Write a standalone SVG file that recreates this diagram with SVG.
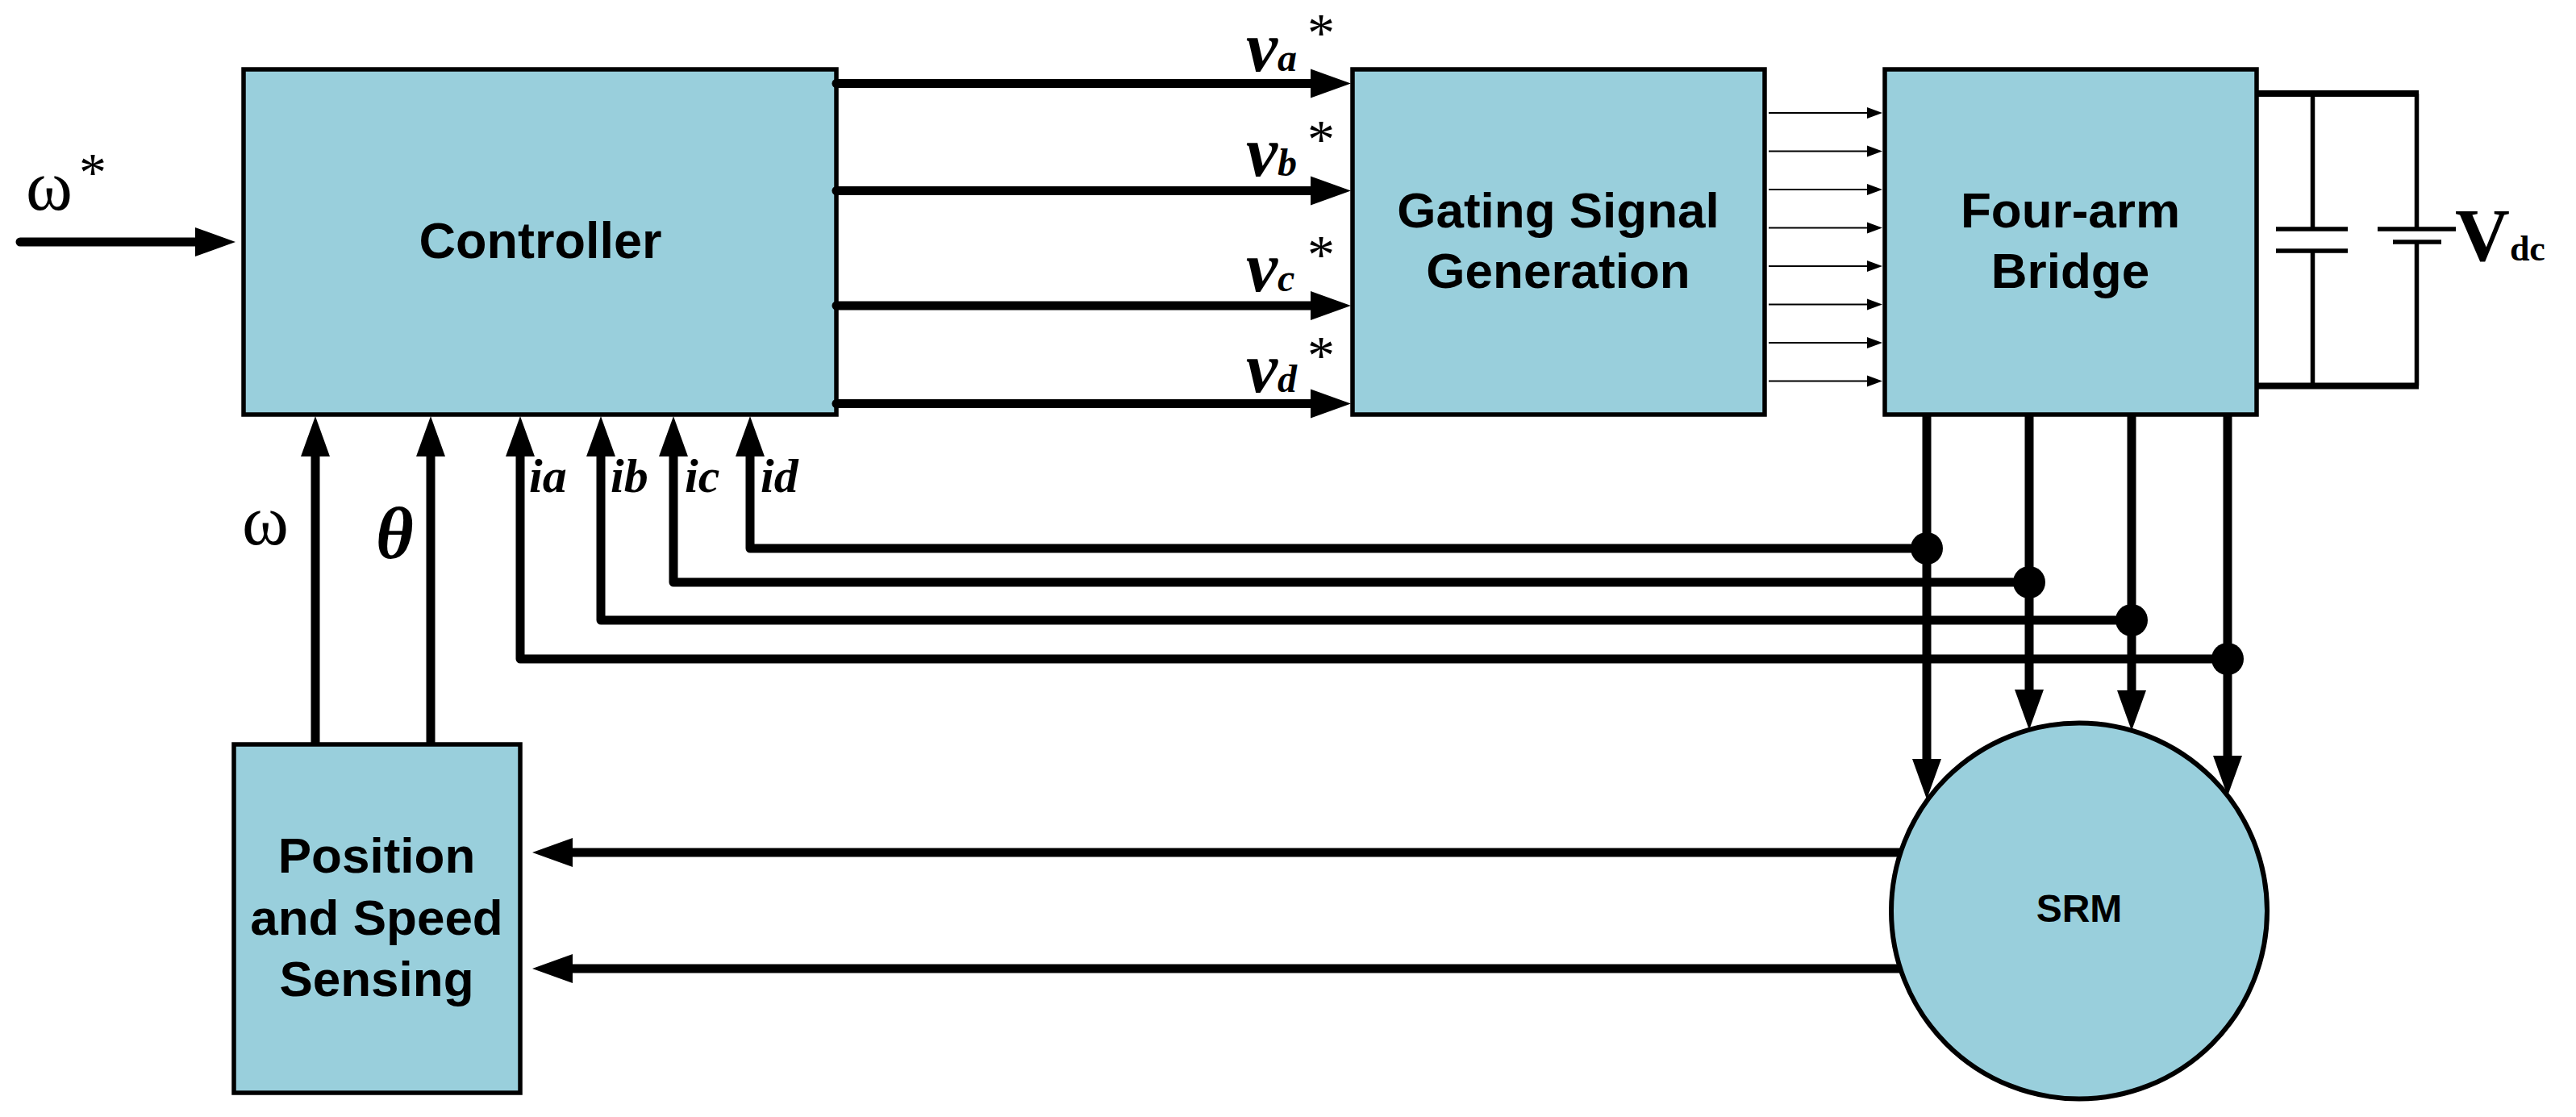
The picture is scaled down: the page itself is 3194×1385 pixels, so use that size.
<svg xmlns="http://www.w3.org/2000/svg" width="3194" height="1385" viewBox="0 0 3194 1385">
<style>
.box{fill:#99CFDC;stroke:#000;stroke-width:5.5}
.lbl{font-family:"Liberation Sans",Arial,sans-serif;font-weight:bold;fill:#000;text-anchor:middle}
.w{stroke:#000;stroke-width:11;fill:none}
.thin{stroke:#000;stroke-width:2;fill:none}
.bus{stroke:#000;stroke-width:8;fill:none}
.el{stroke:#000;stroke-width:5.5;fill:none}
.ser{font-family:"Liberation Serif","Times New Roman",serif;fill:#000}
.bi{font-family:"Liberation Serif","Times New Roman",serif;font-weight:bold;font-style:italic;fill:#000}
</style>
<defs>
<marker id="ah" markerUnits="userSpaceOnUse" markerWidth="52" markerHeight="38" viewBox="0 -19 52 38" refX="0" refY="0" orient="auto"><path d="M0,-18 L50,0 L0,18 z" fill="#000"/></marker>
<marker id="ahs" markerUnits="userSpaceOnUse" markerWidth="20" markerHeight="16" viewBox="0 -8 20 16" refX="0" refY="0" orient="auto"><path d="M0,-7 L19,0 L0,7 z" fill="#000"/></marker>
</defs>
<rect width="3194" height="1385" fill="#fff"/>

<g id="controller">
<rect class="box" x="302" y="86" width="735" height="428"/>
<text class="lbl" x="670" y="320" font-size="63">Controller</text>
</g>
<g id="gating">
<rect class="box" x="1677" y="86" width="511" height="428"/>
<text class="lbl" x="1932" y="282" font-size="62">Gating Signal</text>
<text class="lbl" x="1932" y="357" font-size="62">Generation</text>
</g>
<g id="bridge">
<rect class="box" x="2337" y="86" width="461" height="428"/>
<text class="lbl" x="2567" y="282" font-size="62">Four-arm</text>
<text class="lbl" x="2567" y="357" font-size="62">Bridge</text>
</g>
<g id="dc-link">
<path class="bus" d="M2798,116 H2999 M2798,478.5 H2999"/>
<path class="el" d="M2867.5,116 V284 M2867.5,311 V478.5 M2996.5,116 V284 M2996.5,300 V478.5"/>
<path class="el" stroke-width="6" d="M2822,284 H2911 M2822,311 H2911 M2948,284 H3045 M2967,300 H3027"/>
<text class="ser" x="3044" y="323" font-size="94" font-weight="bold">V<tspan font-size="44">dc</tspan></text>
</g>
<g id="position">
<rect class="box" x="290" y="923" width="355" height="432"/>
<text class="lbl" x="467" y="1082" font-size="62">Position</text>
<text class="lbl" x="467" y="1159" font-size="62">and Speed</text>
<text class="lbl" x="467" y="1235" font-size="62">Sensing</text>
</g>
<g id="srm">
<circle cx="2578" cy="1129.5" r="233" fill="#99CFDC" stroke="#000" stroke-width="6"/>
<text class="lbl" x="2578" y="1143" font-size="48">SRM</text>
</g>

<g id="connectors">
<line class="w" x1="25" y1="300" x2="242" y2="300" stroke-linecap="round" marker-end="url(#ah)"/>
<g stroke-linecap="round">
<line class="w" x1="1037" y1="103.5" x2="1625" y2="103.5" marker-end="url(#ah)"/>
<line class="w" x1="1037" y1="236.5" x2="1625" y2="236.5" marker-end="url(#ah)"/>
<line class="w" x1="1037" y1="379" x2="1625" y2="379" marker-end="url(#ah)"/>
<line class="w" x1="1037" y1="500.5" x2="1625" y2="500.5" marker-end="url(#ah)"/>
</g>
<g>
<line class="thin" x1="2193" y1="140" x2="2315" y2="140" marker-end="url(#ahs)"/>
<line class="thin" x1="2193" y1="187.5" x2="2315" y2="187.5" marker-end="url(#ahs)"/>
<line class="thin" x1="2193" y1="235" x2="2315" y2="235" marker-end="url(#ahs)"/>
<line class="thin" x1="2193" y1="282.5" x2="2315" y2="282.5" marker-end="url(#ahs)"/>
<line class="thin" x1="2193" y1="330" x2="2315" y2="330" marker-end="url(#ahs)"/>
<line class="thin" x1="2193" y1="377.5" x2="2315" y2="377.5" marker-end="url(#ahs)"/>
<line class="thin" x1="2193" y1="425" x2="2315" y2="425" marker-end="url(#ahs)"/>
<line class="thin" x1="2193" y1="472.5" x2="2315" y2="472.5" marker-end="url(#ahs)"/>
</g>
<line class="w" x1="391" y1="923" x2="391" y2="566" marker-end="url(#ah)"/>
<line class="w" x1="534" y1="923" x2="534" y2="566" marker-end="url(#ah)"/>
<g stroke-linejoin="round">
<path class="w" d="M2389,680 H930 V566" marker-end="url(#ah)"/>
<path class="w" d="M2516,722 H835 V566" marker-end="url(#ah)"/>
<path class="w" d="M2643,769 H745 V566" marker-end="url(#ah)"/>
<path class="w" d="M2762,817 H645 V566" marker-end="url(#ah)"/>
</g>
<line class="w" x1="2389" y1="514" x2="2389" y2="941" marker-end="url(#ah)"/>
<line class="w" x1="2516" y1="514" x2="2516" y2="855" marker-end="url(#ah)"/>
<line class="w" x1="2643" y1="514" x2="2643" y2="856" marker-end="url(#ah)"/>
<line class="w" x1="2762" y1="514" x2="2762" y2="937" marker-end="url(#ah)"/>
<circle cx="2389" cy="680" r="20" fill="#000"/>
<circle cx="2516" cy="722" r="20" fill="#000"/>
<circle cx="2643" cy="769" r="20" fill="#000"/>
<circle cx="2762" cy="817" r="20" fill="#000"/>
<line class="w" x1="2356" y1="1057" x2="710" y2="1057" marker-end="url(#ah)"/>
<line class="w" x1="2356" y1="1201" x2="710" y2="1201" marker-end="url(#ah)"/>
</g>

<g id="labels">
<text class="ser" x="32" y="260" font-size="88">ω</text>
<text class="ser" x="98" y="236" font-size="68">*</text>
<text class="bi" x="1545" y="88" font-size="88">v<tspan font-size="48">a</tspan></text>
<text class="ser" x="1621" y="63" font-size="68">*</text>
<text class="bi" x="1545" y="218" font-size="88">v<tspan font-size="48">b</tspan></text>
<text class="ser" x="1621" y="195" font-size="68">*</text>
<text class="bi" x="1545" y="361" font-size="88">v<tspan font-size="48">c</tspan></text>
<text class="ser" x="1621" y="338" font-size="68">*</text>
<text class="bi" x="1545" y="486" font-size="88">v<tspan font-size="48">d</tspan></text>
<text class="ser" x="1621" y="463" font-size="68">*</text>
<text class="ser" x="300" y="675" font-size="88">ω</text>
<text class="bi" x="466" y="692" font-size="90">θ</text>
<text class="bi" x="656" y="610" font-size="60">ia</text>
<text class="bi" x="757" y="610" font-size="60">ib</text>
<text class="bi" x="849" y="610" font-size="60">ic</text>
<text class="bi" x="943" y="610" font-size="60">id</text>
</g>
</svg>
